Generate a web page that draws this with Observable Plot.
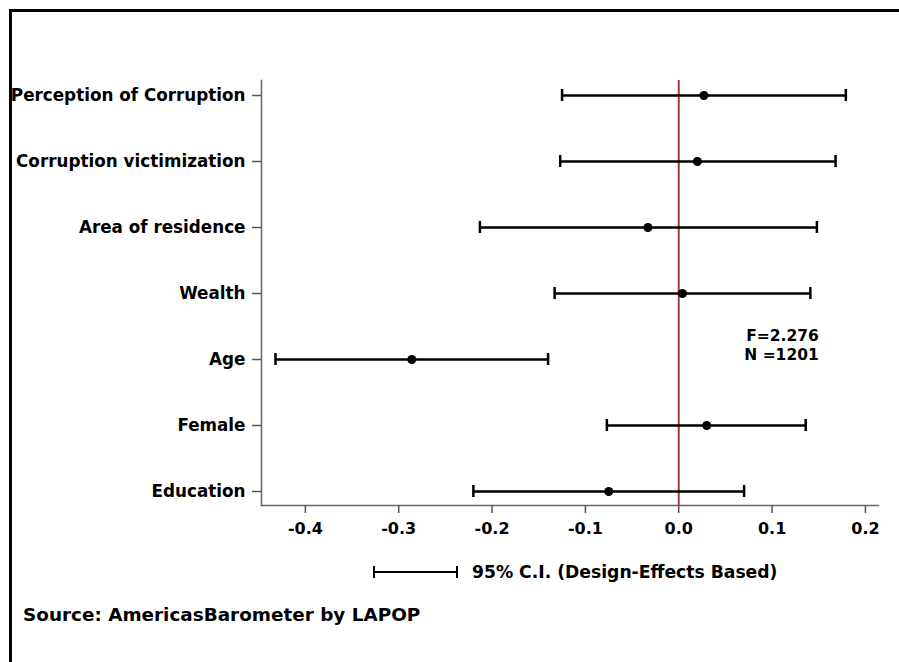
<!DOCTYPE html>
<html>
<head>
<meta charset="utf-8">
<script src="https://cdn.jsdelivr.net/npm/d3@7"></script>
<script src="https://cdn.jsdelivr.net/npm/@observablehq/plot@0.6"></script>
<style>
  html, body { margin: 0; padding: 0; background: #fff; overflow: hidden; }
  #page { position: relative; width: 899px; height: 662px; overflow: hidden; font-family: "DejaVu Sans", sans-serif; font-weight: bold; color: #000; }
  #frame { position: absolute; left: 9px; top: 9px; width: 1000px; height: 1000px; border-left: 3px solid #000; border-top: 3px solid #000; }
  #chart { position: absolute; left: 0; top: 0; }
  #legend { position: absolute; left: 372px; top: 561px; display: flex; align-items: center; font-size: 17.2px; line-height: 22px; }
  #legend svg { margin-right: 12px; }
  #source { position: absolute; left: 23px; top: 603px; font-size: 18.4px; line-height: 24px; }
  #chart text { font-weight: bold; }
</style>
</head>
<body>
<div id="page">
  <div id="frame"></div>
  <div id="chart"></div>
  <div id="legend"></div>
  <div id="source"></div>
</div>
<script>
// Data
const categories = ["Perception of Corruption", "Corruption victimization", "Area of residence", "Wealth", "Age", "Female", "Education"];
const estimates = [0.027, 0.020, -0.033, 0.004, -0.286, 0.030, -0.075];
const lower = [-0.125, -0.127, -0.213, -0.133, -0.432, -0.077, -0.220];
const upper = [0.179, 0.168, 0.148, 0.141, -0.140, 0.136, 0.070];
const xTicks = [-0.4, -0.3, -0.2, -0.1, 0.0, 0.1, 0.2];
const xTickLabels = ["-0.4", "-0.3", "-0.2", "-0.1", "0.0", "0.1", "0.2"];
const statsText = ["F=2.276", "N =1201"];
const legendLabel = "95% C.I. (Design-Effects Based)";
const sourceLabel = "Source: AmericasBarometer by LAPOP";

const data = categories.map((c, i) => ({cat: c, est: estimates[i], lo: lower[i], hi: upper[i]}));

const font = "DejaVu Sans, sans-serif";

const chart = Plot.plot({
  width: 899,
  height: 540,
  marginLeft: 261,
  marginRight: 21,
  marginTop: 80,
  marginBottom: 35,
  style: {fontFamily: font, fontSize: "16px", fontWeight: "bold", background: "transparent", overflow: "visible"},
  x: {domain: [-0.447, 0.214]},
  y: {type: "band", domain: categories, range: [61.5, 523.5], padding: 0},
  marks: [
    Plot.frame({anchor: "left", stroke: "#666", strokeWidth: 1.5}),
    Plot.frame({anchor: "bottom", stroke: "#666", strokeWidth: 1.5}),
    Plot.axisX({ticks: xTicks, tickFormat: (d) => xTickLabels[xTicks.indexOf(d)] ?? d.toFixed(1), tickSize: 8, tickPadding: 9, stroke: "#555", strokeWidth: 1.5, fill: "#000", fontSize: 16, label: null}),
    Plot.axisY({tickSize: 9, tickPadding: 7, stroke: "#555", strokeWidth: 1.5, fill: "#000", fontSize: 16.8, label: null}),
    Plot.ruleX([0], {stroke: "#a63a45", strokeWidth: 2}),
    Plot.ruleY(data, {y: "cat", x1: "lo", x2: "hi", stroke: "#000", strokeWidth: 2.5}),
    Plot.tickX(data, {x: "lo", y: "cat", insetTop: 27, insetBottom: 27, stroke: "#000", strokeWidth: 2.5}),
    Plot.tickX(data, {x: "hi", y: "cat", insetTop: 27, insetBottom: 27, stroke: "#000", strokeWidth: 2.5}),
    Plot.dot(data, {x: "est", y: "cat", r: 4.5, fill: "#000", stroke: null}),
    Plot.text([statsText.join("\n")], {x: 0.150, y: () => "Age", dy: -15, textAnchor: "end", fontSize: 15.5, fontWeight: "bold", fill: "#000", lineHeight: 1.2})
  ]
});
document.getElementById("chart").appendChild(chart);

// Legend
const legend = document.getElementById("legend");
const ns = "http://www.w3.org/2000/svg";
const lsvg = document.createElementNS(ns, "svg");
lsvg.setAttribute("width", 88);
lsvg.setAttribute("height", 20);
const addLine = (x1, y1, x2, y2) => {
  const l = document.createElementNS(ns, "line");
  l.setAttribute("x1", x1); l.setAttribute("y1", y1); l.setAttribute("x2", x2); l.setAttribute("y2", y2);
  l.setAttribute("stroke", "#000"); l.setAttribute("stroke-width", 2);
  lsvg.appendChild(l);
};
addLine(2, 10, 85, 10);
addLine(2, 4, 2, 16);
addLine(85, 4, 85, 16);
legend.appendChild(lsvg);
const lt = document.createElement("span");
lt.textContent = legendLabel;
legend.appendChild(lt);

document.getElementById("source").textContent = sourceLabel;
</script>
</body>
</html>
